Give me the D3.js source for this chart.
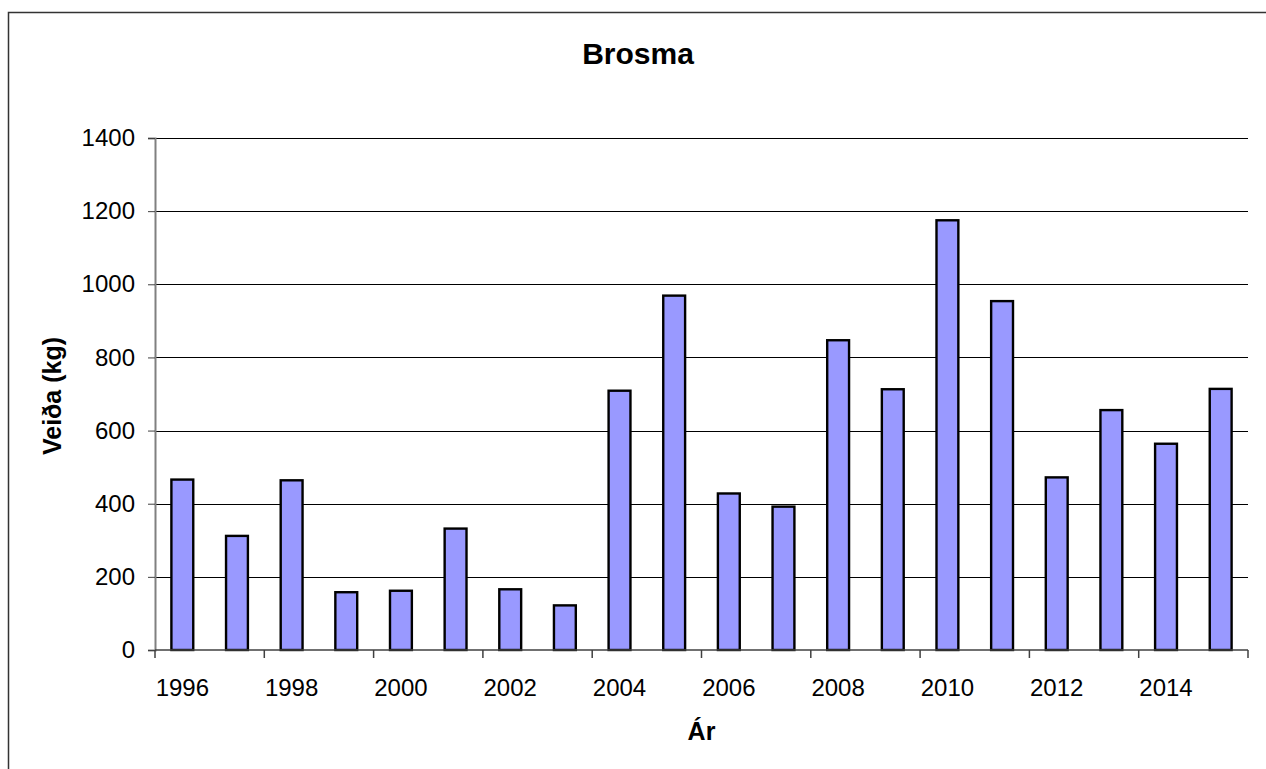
<!DOCTYPE html>
<html>
<head>
<meta charset="utf-8">
<script src="https://cdn.jsdelivr.net/npm/d3@7"></script>
<style>
  html, body { margin: 0; padding: 0; background: #fff; }
  svg { display: block; font-family: "Liberation Sans", Arial, sans-serif; }
</style>
</head>
<body>
<svg id="chart" width="1266" height="769"></svg>
<script>
const years = [1996,1997,1998,1999,2000,2001,2002,2003,2004,2005,2006,2007,2008,2009,2010,2011,2012,2013,2014,2015];
const catch_kg = [466,312,464,158,162,332,166,122,709,969,428,392,847,713,1175,954,472,656,564,714];
const yTicks = [0,200,400,600,800,1000,1200,1400];
const xLabelYears = [1996,1998,2000,2002,2004,2006,2008,2010,2012,2014];
const titleText = "Brosma";
const xTitle = "Ár";
const yTitle = "Veiða (kg)";

const svg = d3.select("#chart");
const m = {left: 155, right: 1248, top: 138, bottom: 650};

// outer frame
svg.append("rect").attr("x", 8.5).attr("y", 12.5).attr("width", 1270).attr("height", 780)
  .attr("fill", "#fff").attr("stroke", "#333").attr("stroke-width", 1.5);

const x = d3.scaleBand().domain(years).range([m.left, m.right])
  .paddingInner(0.6).paddingOuter(0.3);
const y = d3.scaleLinear().domain([0, 1400]).range([m.bottom, m.top]);

// gridlines
svg.append("g").selectAll("line").data(yTicks.filter(d => d > 0)).join("line")
  .attr("x1", m.left).attr("x2", m.right)
  .attr("y1", d => Math.round(y(d)) + 0.5).attr("y2", d => Math.round(y(d)) + 0.5)
  .attr("stroke", "#000").attr("stroke-width", 1);

// y axis
const yAxis = d3.axisLeft(y).tickValues(yTicks).tickSize(7).tickPadding(13).tickFormat(d3.format("d"));
const gy = svg.append("g").attr("transform", `translate(${m.left},0)`).call(yAxis);
gy.select(".domain").attr("stroke", "#808080").attr("stroke-width", 2);
gy.selectAll(".tick line").attr("stroke", "#404040");
gy.selectAll(".tick text").attr("font-size", 24).attr("fill", "#000")
  .attr("font-family", "Liberation Sans, Arial, sans-serif");

// bars
svg.append("g").selectAll("rect").data(years).join("rect")
  .attr("x", d => x(d)).attr("width", x.bandwidth())
  .attr("y", (d, i) => y(catch_kg[i]))
  .attr("height", (d, i) => y(0) - y(catch_kg[i]))
  .attr("fill", "#9999FF").attr("stroke", "#000").attr("stroke-width", 2.4);

// x axis line
svg.append("line").attr("x1", m.left).attr("x2", m.right)
  .attr("y1", m.bottom).attr("y2", m.bottom)
  .attr("stroke", "#404040").attr("stroke-width", 1.5);

// x ticks at every other category boundary
const step = x.step();
const boundaries = d3.range(0, years.length + 1, 2).map(i => m.left + i * step);
svg.append("g").selectAll("line").data(boundaries).join("line")
  .attr("x1", d => d).attr("x2", d => d)
  .attr("y1", m.bottom).attr("y2", m.bottom + 8)
  .attr("stroke", "#404040").attr("stroke-width", 1.5);

svg.append("g").selectAll("text").data(xLabelYears).join("text")
  .attr("x", d => x(d) + x.bandwidth() / 2).attr("y", 696)
  .attr("text-anchor", "middle").attr("font-size", 24).attr("fill", "#000")
  .text(d => d);

// titles
svg.append("text").attr("x", 638).attr("y", 64).attr("text-anchor", "middle")
  .attr("font-size", 30).attr("font-weight", "bold").text(titleText);
svg.append("text").attr("x", (m.left + m.right) / 2).attr("y", 740).attr("text-anchor", "middle")
  .attr("font-size", 25).attr("font-weight", "bold").text(xTitle);
svg.append("text").attr("transform", "translate(61,396) rotate(-90)").attr("text-anchor", "middle")
  .attr("font-size", 25).attr("font-weight", "bold").text(yTitle);
</script>
</body>
</html>
